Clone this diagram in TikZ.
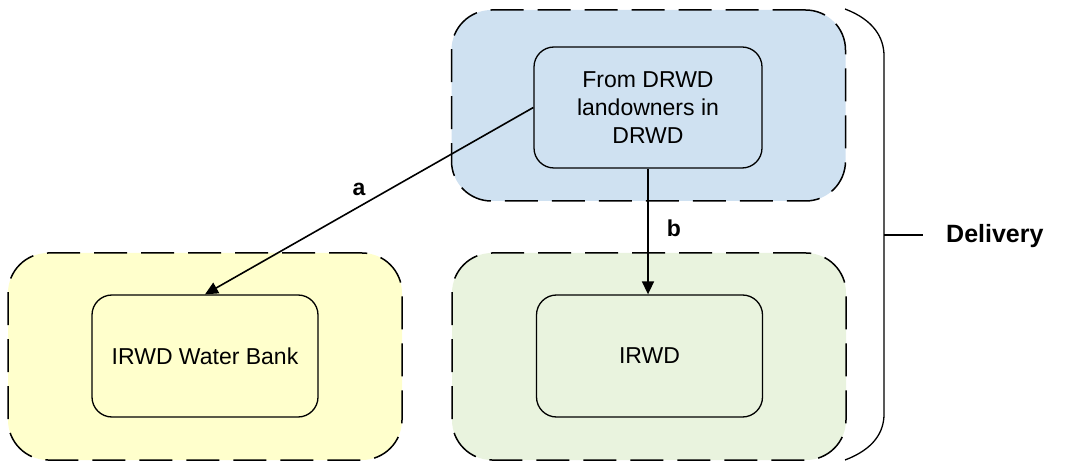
\documentclass[tikz,border=0pt]{standalone}
\usepackage{fontspec}
\setmainfont{Liberation Sans}
\usetikzlibrary{arrows.meta}

\definecolor{blueArea}{RGB}{207,225,241}
\definecolor{yellowArea}{RGB}{255,255,204}
\definecolor{greenArea}{RGB}{233,243,222}

\tikzset{
  area/.style={draw, line width=1.5pt, dash pattern=on 33pt off 14pt,
    rounded corners=40pt, minimum width=394pt, minimum height=207pt},
  unit/.style={draw, line width=1.3pt, rounded corners=20pt, align=center,
    minimum width=226pt, minimum height=122pt,
    font=\fontsize{23}{28}\selectfont},
  flow/.style={line width=1.6pt, -{Triangle[length=13pt,width=12pt]}},
  tag/.style={font=\fontsize{23}{26}\selectfont\bfseries}
}

\begin{document}
\begin{tikzpicture}[x=1pt,y=-1pt]
\tikzstyle{every node}+=[inner sep=0pt]
\useasboundingbox (0,0) rectangle (1068,462);

% areas
\node [area, fill=blueArea, minimum height=191pt] (srcArea) at (648.5,105.5) {};
\node [area, fill=yellowArea] (bankArea) at (205,356.5) {};
\node [area, fill=greenArea] (irwdArea) at (649,356.5) {};

% units
\node [unit, minimum width=228pt, minimum height=121pt] (src) at (648,107.5)
  {From DRWD\\landowners in\\DRWD};
\node [unit] (bank) at (205,356) {IRWD Water Bank};
\node [unit] (irwd) at (649.5,356) {IRWD};

% flows
\draw [flow] (src.west) -- (bank.north);
\node [tag] (labA) at (359,189) {a};
\draw [flow] (src.south) -- (src.south |- irwd.north);
\node [tag] (labB) at (674,228) {b};

% bracket
\coordinate (brTop) at (845,9);
\coordinate (brBot) at (845,460);
\coordinate (brMid) at (884,235);
\draw [line width=1.3pt] (brTop) .. controls (874,20) and (884,38) .. (884,56)
  -- (884,414) .. controls (884,432) and (874,449) .. (brBot);
\node [tag, font=\fontsize{25}{28}\selectfont\bfseries, anchor=west,
  inner xsep=23pt] (delivery) at (923,236) {Delivery};
\draw [line width=1.3pt] (brMid) -- (brMid -| delivery.west);
\end{tikzpicture}
\end{document}
